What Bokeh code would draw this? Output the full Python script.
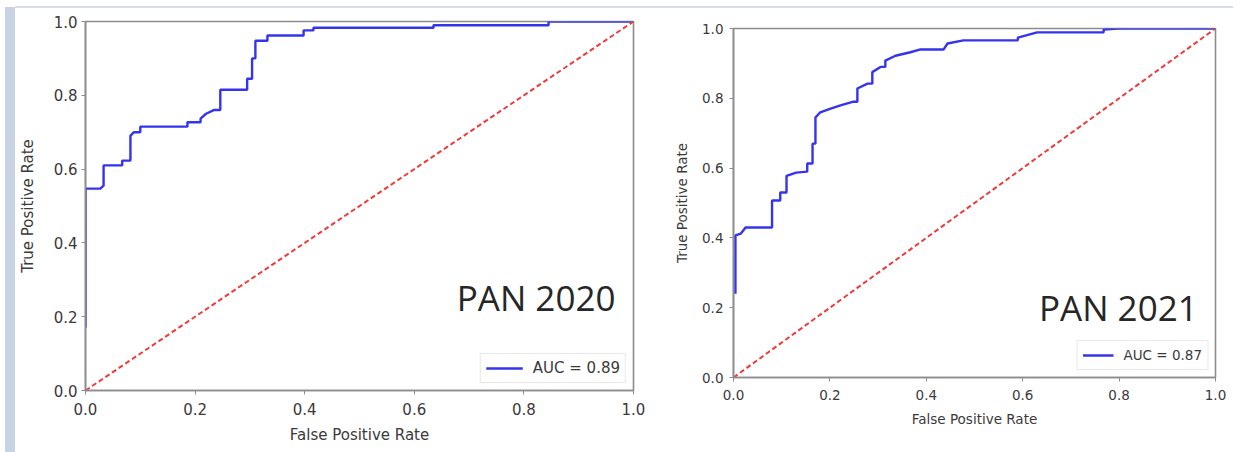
from bokeh.plotting import figure
from bokeh.layouts import row, column
from bokeh.models import (FixedTicker, Label, Legend, LegendItem, Div, Spacer,
                          Range1d, NumeralTickFormatter)
from bokeh.embed import file_html
from bokeh.resources import INLINE

# ---- data ----
fpr_2020 = [0.0, 0.0, 0.027, 0.033, 0.033, 0.067, 0.067, 0.082, 0.082, 0.088,
            0.10, 0.10, 0.186, 0.186, 0.21, 0.21, 0.22, 0.234, 0.246, 0.246,
            0.295, 0.295, 0.304, 0.304, 0.31, 0.31, 0.332, 0.332, 0.398,
            0.398, 0.416, 0.416, 0.635, 0.635, 0.845, 0.845, 1.0]
tpr_2020 = [0.17, 0.547, 0.547, 0.555, 0.61, 0.61, 0.623, 0.623, 0.69, 0.70,
            0.70, 0.715, 0.715, 0.727, 0.727, 0.737, 0.75, 0.76, 0.76, 0.815,
            0.815, 0.845, 0.845, 0.90, 0.90, 0.948, 0.948, 0.962, 0.962,
            0.976, 0.976, 0.983, 0.983, 0.99, 0.99, 1.0, 1.0]

fpr_2021 = [0.004, 0.004, 0.015, 0.025, 0.08, 0.08, 0.097, 0.097, 0.11, 0.11,
            0.13, 0.153, 0.153, 0.164, 0.164, 0.17, 0.17, 0.18, 0.20, 0.222,
            0.247, 0.257, 0.257, 0.278, 0.288, 0.288, 0.305, 0.315, 0.315,
            0.336, 0.367, 0.388, 0.436, 0.444, 0.477, 0.59, 0.59, 0.63, 0.768,
            0.768, 0.797, 1.0]
tpr_2021 = [0.24, 0.407, 0.412, 0.43, 0.43, 0.507, 0.507, 0.53, 0.53, 0.578,
            0.587, 0.59, 0.613, 0.613, 0.67, 0.67, 0.745, 0.76, 0.77, 0.78,
            0.79, 0.79, 0.828, 0.842, 0.842, 0.875, 0.89, 0.89, 0.908, 0.922,
            0.932, 0.94, 0.94, 0.957, 0.966, 0.966, 0.974, 0.989, 0.989,
            0.997, 1.0, 1.0]

chance_x = [0.0, 1.0]
chance_y = [0.0, 1.0]

tick_values = [0.0, 0.2, 0.4, 0.6, 0.8, 1.0]
auc_labels = ["AUC = 0.89", "AUC = 0.87"]
panel_titles = ["PAN 2020", "PAN 2021"]

AXIS_GRAY = "#8c8c8c"
TEXT = "#3a3a3a"


def make_panel(fpr, tpr, auc_label, title, cfg):
    p = figure(frame_width=cfg["fw"], frame_height=cfg["fh"],
               min_border_left=cfg["bl"], min_border_right=cfg["br"],
               min_border_top=21, min_border_bottom=62,
               x_range=Range1d(0, 1), y_range=Range1d(0, 1),
               output_backend="svg", toolbar_location=None,
               background_fill_color="white", border_fill_color="white")
    p.grid.visible = False
    p.outline_line_color = AXIS_GRAY
    p.outline_line_width = 1.6
    fs = cfg["fs"]
    for ax in (p.xaxis[0], p.yaxis[0]):
        ax.ticker = FixedTicker(ticks=tick_values)
        ax.formatter = NumeralTickFormatter(format="0.0")
        ax.axis_line_color = AXIS_GRAY
        ax.axis_line_width = 1.6
        ax.major_tick_line_color = AXIS_GRAY
        ax.major_tick_out = 4
        ax.major_tick_in = 0
        ax.minor_tick_line_color = None
        ax.major_label_text_font = "DejaVu Sans"
        ax.major_label_text_font_size = fs
        ax.major_label_text_color = TEXT
        ax.axis_label_text_font = "DejaVu Sans"
        ax.axis_label_text_font_size = fs
        ax.axis_label_text_font_style = "normal"
        ax.axis_label_text_color = TEXT
    p.xaxis.axis_label = "False Positive Rate"
    p.yaxis.axis_label = "True Positive Rate"
    p.xaxis.major_label_standoff = cfg["xls"]
    p.yaxis.major_label_standoff = cfg["yls"]
    p.xaxis.axis_label_standoff = cfg["xas"]
    p.yaxis.axis_label_standoff = cfg["yas"]

    roc = p.line(fpr, tpr, line_color="#3434ee", line_width=2.4)
    p.line(chance_x, chance_y, line_color="#f03a3a", line_width=2,
           line_dash="5 3")

    legend = Legend(items=[LegendItem(label=auc_label, renderers=[roc])],
                    location="bottom_right")
    legend.margin = 7
    legend.padding = cfg["lp"]
    legend.glyph_width = cfg["gw"]
    legend.glyph_height = 18
    legend.label_standoff = 10
    legend.spacing = 0
    legend.border_line_color = "#d4d4d4"
    legend.border_line_width = 1
    legend.background_fill_color = "white"
    legend.label_text_font = "DejaVu Sans"
    legend.label_text_font_size = fs
    legend.label_text_color = TEXT
    p.add_layout(legend)

    p.add_layout(Label(x=cfg["tx"], y=cfg["ty"], text=title,
                       text_align="right", text_baseline="alphabetic",
                       text_font="Open Sans", text_font_size="35px",
                       text_color="#262626"))
    return p


cfg_left = dict(fw=548, fh=369, bl=70, br=27, fs="15px",
                xls=8, yls=4, xas=8, yas=14, lp=5, gw=37, tx=0.967, ty=0.252)
cfg_right = dict(fw=482, fh=349, bl=73, br=29, fs="13.5px",
                 xls=8, yls=6, xas=8, yas=9, lp=5, gw=31, tx=0.963, ty=0.20)

p1 = make_panel(fpr_2020, tpr_2020, auc_labels[0], panel_titles[0], cfg_left)
p2 = make_panel(fpr_2021, tpr_2021, auc_labels[1], panel_titles[1], cfg_right)

strip = Div(width=15, height=452, margin=0,
            text=('<div style="position:fixed;left:5px;top:7px;width:10px;'
                  'height:445px;background:#c8d3e5;z-index:10"></div>'
                  '<div style="position:fixed;left:15px;top:6px;width:1218px;'
                  'height:2px;background:#d8dcec;z-index:10"></div>'))

right_col = column(Spacer(width=584, height=7, margin=0), p2, spacing=0)
layout = row(strip, p1, right_col, spacing=0)
open("out.html", "w").write(file_html(layout, INLINE))
